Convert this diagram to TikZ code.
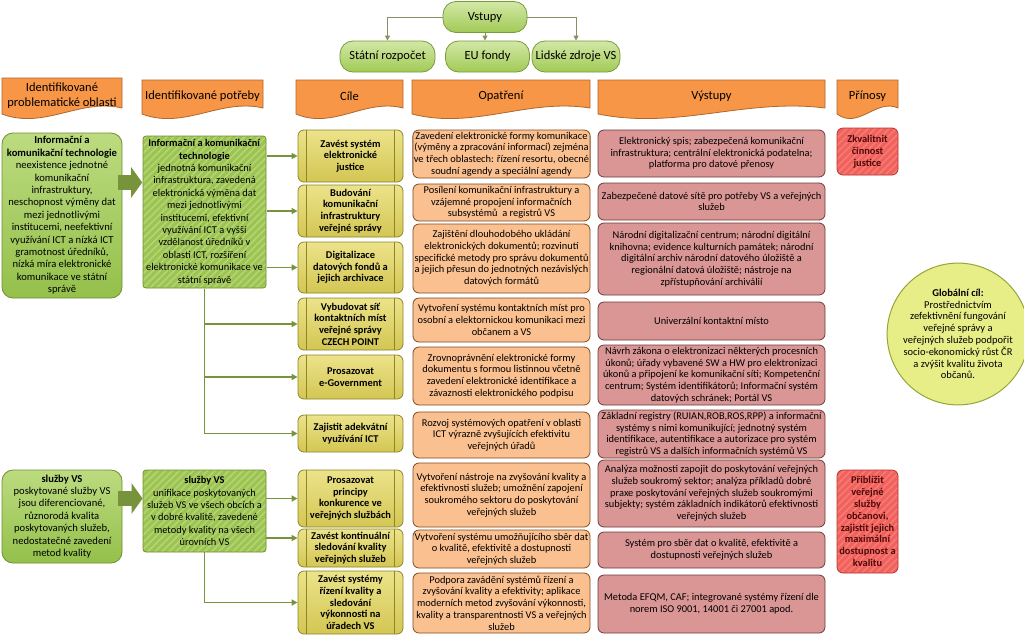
\documentclass[tikz,border=0pt]{standalone}
\usepackage{fontspec}
\setmainfont{Carlito}
\usetikzlibrary{arrows.meta,calc,patterns.meta}

\definecolor{pilltop}{HTML}{D2E8A6}
\definecolor{pillbot}{HTML}{A2CA56}
\definecolor{pillline}{HTML}{7A9B3A}
\definecolor{vsline}{HTML}{8E8E66}
\definecolor{headfill}{HTML}{F79646}
\definecolor{headline}{HTML}{B0672C}
\definecolor{probtop}{HTML}{BCDB80}
\definecolor{probbot}{HTML}{94C04B}
\definecolor{probline}{HTML}{6E8F2E}
\definecolor{needbase}{HTML}{9DC453}
\definecolor{needstripe}{HTML}{B3D574}
\definecolor{feedcol}{HTML}{77933C}
\definecolor{goaltop}{HTML}{ECE38A}
\definecolor{goalbot}{HTML}{D3C653}
\definecolor{goalline}{HTML}{8E8428}
\definecolor{measfill}{HTML}{FAC090}
\definecolor{measline}{HTML}{7F4B22}
\definecolor{outfill}{HTML}{D99694}
\definecolor{outline}{HTML}{6E3B3B}
\definecolor{gainbase}{HTML}{F2615B}
\definecolor{gainstripe}{HTML}{F47C76}
\definecolor{gainline}{HTML}{B5352F}
\definecolor{gaintext}{HTML}{4F0A0A}
\definecolor{globefill}{HTML}{E7EE88}
\definecolor{globeline}{HTML}{94A63A}

\tikzset{
  pill/.style={draw=pillline,line width=0.8pt,rounded corners=13pt,
    top color=pilltop,bottom color=pillbot,minimum height=31pt,
    font=\fontsize{12.5}{14}\selectfont},
  headbox/.style={fill=headfill,draw=headline,line width=0.8pt},
  headtext/.style={align=center,font=\fontsize{12.5}{15}\selectfont,inner sep=0pt},
  probbox/.style={draw=probline,line width=0.8pt,rounded corners=11pt,
    top color=probtop,bottom color=probbot,minimum width=120pt,align=center,
    inner sep=1pt,font=\fontsize{10.6}{12.4}\selectfont},
  needbox/.style={draw=probline,line width=0.8pt,rounded corners=3pt,
    preaction={fill=needbase},
    pattern={Lines[angle=45,distance=5pt,line width=1.6pt]},pattern color=needstripe,
    minimum width=123pt,align=center,inner sep=1pt,
    font=\fontsize{10.4}{12.4}\selectfont},
  goalbox/.style={draw=goalline,line width=0.8pt,rounded corners=6pt,
    top color=goaltop,bottom color=goalbot,minimum width=105pt,align=center,
    inner sep=1pt,font=\fontsize{10.4}{11.7}\selectfont\bfseries},
  goalsep/.style={draw=goalline,line width=0.7pt},
  measbox/.style={draw=measline,line width=0.8pt,rounded corners=6pt,
    fill=measfill,minimum width=177pt,align=center,inner sep=1pt,
    font=\fontsize{10.4}{11.7}\selectfont},
  outbox/.style={draw=outline,line width=0.8pt,rounded corners=6pt,
    fill=outfill,minimum width=227pt,align=center,inner sep=1pt,
    font=\fontsize{10.4}{11.7}\selectfont},
  gainbox/.style={draw=gainline,line width=0.8pt,rounded corners=6pt,
    preaction={fill=gainbase},
    pattern={Lines[angle=45,distance=5pt,line width=1.6pt]},pattern color=gainstripe,
    minimum width=61pt,align=center,inner sep=1pt,text=gaintext,
    font=\fontsize{10.4}{11.8}\selectfont\bfseries},
  globe/.style={circle,draw=globeline,line width=1pt,fill=globefill,
    minimum size=130pt,align=center,inner sep=0pt,
    font=\fontsize{10.5}{11.8}\selectfont},
  vsarrow/.style={draw=vsline,line width=1pt,-{Triangle[length=5pt,width=5pt]}},
  feed/.style={draw=feedcol,line width=1.6pt,-{Triangle[length=6pt,width=6pt]}},
  bigarrow/.style={draw=feedcol,line width=15pt,-{Triangle[length=11pt,width=30pt]}}
}

% orange column heading with a wavy lower edge
\newcommand{\wavehead}[5]{%
  \draw[headbox] (#2,#4) -- (#3,#4) -- (#3,108)
     .. controls ($(#2,98)!0.65!(#3,98)$) and ($(#2,130)!0.35!(#3,130)$) .. (#2,114) -- cycle;
  \node[headtext] (#1) at ($(#2,96)!0.5!(#3,96)$) {#5};
}

\begin{document}
\begin{tikzpicture}[x=1pt,y=-1pt]
  \useasboundingbox (0,0) rectangle (1024,643);

  % inputs
  \node[pill,minimum width=84pt] (vst) at (485,17) {Vstupy};
  \node[pill,minimum width=95pt] (s1) at (387.5,56.5) {Státní rozpočet};
  \node[pill,minimum width=84pt] (s2) at (487.5,56.5) {EU fondy};
  \node[pill,minimum width=88pt] (s3) at (576,56.5) {Lidské zdroje VS};
  \draw[vsarrow] (vst.west) -| (s1.north);
  \draw[vsarrow] (vst.south) -- (vst.south |- s2.north);
  \draw[vsarrow] (vst.east) -| (s3.north);

  % column headings
  \wavehead{h1}{2}{122}{78}{Identifikované\\problematické oblasti}
  \wavehead{h2}{142}{263}{80}{Identifikované potřeby}
  \wavehead{h3}{296}{403}{80}{Cíle}
  \wavehead{h4}{412}{590}{80}{Opatření}
  \wavehead{h5}{598}{825}{80}{Výstupy}
  \wavehead{h6}{837}{898}{80}{Přínosy}

  % problem areas and needs
  \node[probbox,minimum height=165pt] (a1) at (62,215.5)
    {\textbf{Informační a}\\\textbf{komunikační technologie}\\neexistence jednotné\\komunikační\\
     infrastruktury,\\neschopnost výměny dat\\mezi jednotlivými\\institucemi, neefektivní\\
     využívání ICT a nízká ICT\\gramotnost úředníků,\\nízká míra elektronické\\
     komunikace ve státní\\správě};
  \node[needbox,minimum height=152pt] (b1) at (204.5,212)
    {\textbf{Informační a komunikační}\\\textbf{technologie}\\jednotná komunikační\\
     infrastruktura, zavedená\\elektronická výměna dat\\mezi jednotlivými\\
     institucemi, efektivní\\využívání ICT a vyšší\\vzdělanost úředníků v\\
     oblasti ICT, rozšíření\\elektronické komunikace ve\\státní správě};
  \node[probbox,minimum height=93pt] (a2) at (62,516.5)
    {\textbf{služby VS}\\poskytované služby VS\\jsou diferenciované,\\různorodá kvalita\\
     poskytovaných služeb,\\nedostatečné zavedení\\metod kvality};
  \node[needbox,minimum height=82pt] (b2) at (204.5,511)
    {\textbf{služby VS}\\unifikace poskytovaných\\služeb VS ve všech obcích a\\
     v dobré kvalitě, zavedené\\metody kvality na všech\\úrovních VS};
  \draw[bigarrow] ($(a1.east)+(-4,-33)$) -- ($(a1.east -| b1.west)+(0,-33)$);
  \draw[bigarrow] ($(a2.east)+(-4,-18)$) -- ($(a2.east -| b2.west)+(0,-18)$);

  % goals
  \node[goalbox,minimum height=52pt] (g1) at (350.5,156) {Zavést systém\\elektronické\\justice};
  \node[goalbox,minimum height=52pt] (g2) at (350.5,211) {Budování\\komunikační\\infrastruktury\\veřejné správy};
  \node[goalbox,minimum height=51pt] (g3) at (350.5,267.5) {Digitalizace\\datových fondů a\\jejich archivace};
  \node[goalbox,minimum height=52pt] (g4) at (350.5,324) {Vybudovat síť\\kontaktních míst\\veřejné správy\\CZECH POINT};
  \node[goalbox,minimum height=44pt] (g5) at (350.5,377) {Prosazovat\\e-Government};
  \node[goalbox,minimum height=37pt] (g6) at (350.5,433.5) {Zajistit adekvátní\\využívání ICT};
  \node[goalbox,minimum height=57pt] (g7) at (350.5,498.5) {Prosazovat\\principy\\konkurence ve\\veřejných službách};
  \node[goalbox,minimum height=38pt] (g8) at (350.5,548) {Zavést kontinuální\\sledování kvality\\veřejných služeb};
  \node[goalbox,minimum height=63pt] (g9) at (350.5,602.5) {Zavést systémy\\řízení kvality a\\sledování\\výkonnosti na\\úřadech VS};
  \foreach \i in {1,...,9} {
    \draw[goalsep] ([xshift=9pt]g\i.north west) -- ([xshift=9pt]g\i.south west);
    \draw[goalsep] ([xshift=-9pt]g\i.north east) -- ([xshift=-9pt]g\i.south east);
  }

  % needs -> goals
  \foreach \i in {1,2,3}
    \draw[feed] (b1.east |- g\i) -- (g\i.west);
  \foreach \i in {4,5,6}
    \draw[feed] (b1.south) |- (g\i.west);
  \draw[feed] (b2.east |- g7) -- (g7.west);
  \draw[feed] ($(b2.east |- g8)+(0,-10)$) -- ($(g8.west)+(0,-10)$);
  \draw[feed] (b2.south) |- (g9.west);

  % measures
  \node[measbox,minimum height=48pt] (m1) at (501.5,154)
    {Zavedení elektronické formy komunikace\\(výměny a zpracování informací) zejména\\
     ve třech oblastech: řízení resortu, obecné\\soudní agendy a speciální agendy};
  \node[measbox,minimum height=37pt] (m2) at (501.5,202.5)
    {Posílení komunikační infrastruktury a\\vzájemné propojení informačních\\subsystémů~ a registrů VS};
  \node[measbox,minimum height=69pt] (m3) at (501.5,258.5)
    {Zajištění dlouhodobého ukládání\\elektronických dokumentů; rozvinutí\\
     specifické metody pro správu dokumentů\\a jejich přesun do jednotných nezávislých\\datových formátů};
  \node[measbox,minimum height=44pt] (m4) at (501.5,320)
    {Vytvoření systému kontaktních míst pro\\osobní a elektornickou komunikaci mezi\\občanem a VS};
  \node[measbox,minimum height=58pt] (m5) at (501.5,376)
    {Zrovnoprávnění elektronické formy\\dokumentu s formou listinnou včetně\\
     zavedení elektronické identifikace a\\závaznosti elektronického podpisu};
  \node[measbox,minimum height=46pt] (m6) at (501.5,435)
    {Rozvoj systémových opatření v oblasti\\ICT výrazně zvyšujících efektivitu\\veřejných úřadů};
  \node[measbox,minimum height=64pt] (m7) at (501.5,495)
    {Vytvoření nástroje na zvyšování kvality a\\efektivnosti služeb; umožnění zapojení\\
     soukromého sektoru do poskytování\\veřejných služeb};
  \node[measbox,minimum height=38pt] (m8) at (501.5,549)
    {Vytvoření systému umožňujícího sběr dat\\o kvalitě, efektivitě a dostupnosti\\veřejných služeb};
  \node[measbox,minimum height=60pt] (m9) at (501.5,603)
    {Podpora zavádění systémů řízení a\\zvyšování kvality a efektivity; aplikace\\
     moderních metod zvyšování výkonnosti,\\kvality a transparentnosti VS a veřejných\\služeb};

  % outputs
  \node[outbox,minimum height=47pt] (o1) at (711.5,153.5)
    {Elektronický spis; zabezpečená komunikační\\infrastruktura; centrální elektronická podatelna;\\
     platforma pro datové přenosy};
  \node[outbox,minimum height=37pt] (o2) at (711.5,201.5)
    {Zabezpečené datové sítě pro potřeby VS a veřejných\\služeb};
  \node[outbox,minimum height=72pt] (o3) at (711.5,259)
    {Národní digitalizační centrum; národní digitální\\knihovna; evidence kulturních památek; národní\\
     digitální archiv národní datového úložiště a\\regionální datová úložiště; nástroje na\\
     zpřístupňování archiválií};
  \node[outbox,minimum height=38pt] (o4) at (711.5,321) {Univerzální kontaktní místo};
  \node[outbox,minimum height=60pt] (o5) at (711.5,375)
    {Návrh zákona o elektronizaci některých procesních\\úkonů; úřady vybavené SW a HW pro elektronizaci\\
     úkonů a připojení ke komunikační síti; Kompetenční\\centrum; Systém identifikátorů; Informační systém\\
     datových schránek; Portál VS};
  \node[outbox,minimum height=48pt] (o6) at (711.5,434)
    {Základní registry (RUIAN,ROB,ROS,RPP) a informační\\systémy s nimi komunikující; jednotný systém\\
     identifikace, autentifikace a autorizace pro systém\\registrů VS a dalších informačních systémů VS};
  \node[outbox,minimum height=67pt] (o7) at (711.5,493.5)
    {Analýza možnosti zapojit do poskytování veřejných\\služeb soukromý sektor; analýza příkladů dobré\\
     praxe poskytování veřejných služeb soukromými\\subjekty; systém základních indikátorů efektivnosti\\
     veřejných služeb};
  \node[outbox,minimum height=36pt] (o8) at (711.5,550)
    {Systém pro sběr dat o kvalitě, efektivitě a\\dostupnosti veřejných služeb};
  \node[outbox,minimum height=58pt] (o9) at (711.5,604)
    {Metoda EFQM, CAF; integrované systémy řízení dle\\norem ISO 9001, 14001 či 27001 apod.};

  % benefits and global goal
  \node[gainbox,minimum height=47pt] (p1) at (867.5,151.5) {Zkvalitnit\\činnost\\justice};
  \node[gainbox,minimum height=103pt] (p2) at (867.5,521.5)
    {Přiblížit\\veřejné\\služby\\občanovi,\\zajistit jejich\\maximální\\dostupnost a\\kvalitu};
  \node[globe] (glob) at (958,334)
    {\textbf{Globální cíl:}\\Prostřednictvím\\zefektivnění fungování\\veřejné správy a\\
     veřejných služeb podpořit\\socio-ekonomický růst ČR\\a zvýšit kvalitu života\\občanů.};
\end{tikzpicture}
\end{document}
